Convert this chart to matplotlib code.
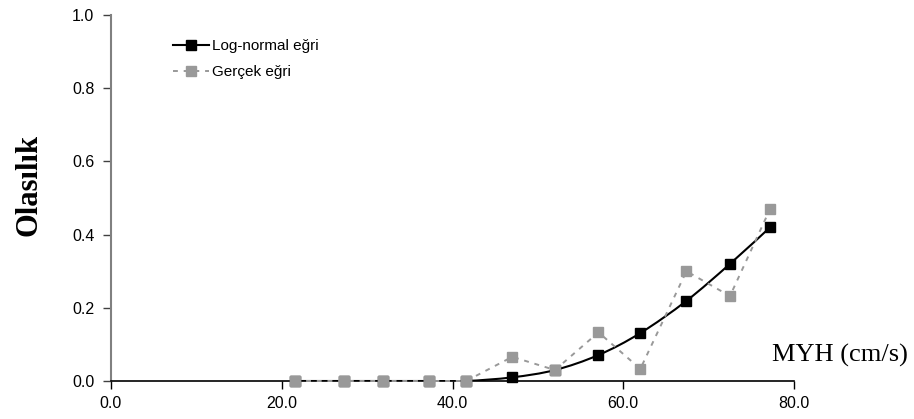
import numpy as np
import matplotlib
matplotlib.use("Agg")
import matplotlib.pyplot as plt
from matplotlib.path import Path
from matplotlib.patches import PathPatch

# Wind speed classes (cm/s) and exceedance probabilities
myh = [21.6, 27.3, 31.9, 37.3, 41.6, 47.0, 52.0, 57.1, 62.0, 67.4, 72.5, 77.2]
lognormal = [0.0, 0.0, 0.0, 0.0, 0.0, 0.01, 0.03, 0.071, 0.131, 0.219, 0.32, 0.42]
gercek = [0.0, 0.0, 0.0, 0.0, 0.0, 0.066, 0.03, 0.133, 0.033, 0.30, 0.232, 0.47]

x_ticks = [0, 20, 40, 60, 80]
y_ticks = [0.0, 0.2, 0.4, 0.6, 0.8, 1.0]


def smooth_path(xs, ys, tension=1 / 6):
    """Catmull-Rom style cubic Bezier path through the given points."""
    pts = np.column_stack([xs, ys]).astype(float)
    n = len(pts)
    verts = [pts[0]]
    codes = [Path.MOVETO]
    for i in range(n - 1):
        p0 = pts[i - 1] if i > 0 else pts[i]
        p1 = pts[i]
        p2 = pts[i + 1]
        p3 = pts[i + 2] if i + 2 < n else pts[i + 1]
        c1 = p1 + (p2 - p0) * tension
        c2 = p2 - (p3 - p1) * tension
        verts += [c1, c2, p2]
        codes += [Path.CURVE4] * 3
    return Path(verts, codes)


fig = plt.figure(figsize=(9.14, 4.19), dpi=100)
ax = fig.add_axes([111 / 914, 1 - 381 / 419, (794 - 111) / 914, (381 - 15) / 419])

ax.set_xlim(0, 80)
ax.set_ylim(0, 1.0)

# Observed curve: grey dotted with grey squares
ax.plot(myh, gercek, color="#999999", linestyle=(0, (2.5, 3)), linewidth=1.4,
        marker="s", markersize=7, markerfacecolor="#999999",
        markeredgecolor="#999999", zorder=3, clip_on=False)

# Log-normal curve: smoothed black line with black squares
ax.add_patch(PathPatch(smooth_path(myh, lognormal), facecolor="none",
                       edgecolor="black", linewidth=1.5, zorder=2))
ax.plot(myh, lognormal, linestyle="none", marker="s", markersize=7,
        color="black", zorder=2.5, clip_on=False)
ax.plot(myh[:5], gercek[:5], linestyle="none", marker="s", markersize=7,
        color="#999999", zorder=3, clip_on=False)

# Legend entries drawn as proxies
h1, = ax.plot([], [], color="black", linewidth=1.5, marker="s", markersize=7)
h2, = ax.plot([], [], color="#999999", linestyle=(0, (2.5, 3)), linewidth=1.4,
              marker="s", markersize=7)
leg = ax.legend([h1, h2], ["Log-normal eğri", "Gerçek eğri"],
                loc="upper left", bbox_to_anchor=(0.07, 0.972), frameon=False,
                prop={"family": "Liberation Sans", "size": 11},
                handlelength=2.4, handletextpad=0.2, labelspacing=0.8)

ax.set_xticks(x_ticks)
ax.set_xticklabels([f"{v:.1f}" for v in x_ticks])
ax.set_yticks(y_ticks)
ax.set_yticklabels([f"{v:.1f}" for v in y_ticks])
for lab in ax.get_xticklabels() + ax.get_yticklabels():
    lab.set_family("Liberation Sans")
    lab.set_fontsize(11.5)

ax.spines["top"].set_visible(False)
ax.spines["right"].set_visible(False)
ax.spines["left"].set_color("#808080")
ax.spines["left"].set_linewidth(1.5)
ax.spines["bottom"].set_color("black")
ax.spines["bottom"].set_linewidth(1.2)
ax.tick_params(axis="y", direction="out", length=6, width=1.0, colors="#404040",
               labelcolor="black", pad=6)
ax.tick_params(axis="x", direction="out", length=6, width=1.0, colors="black",
               pad=5)

fig.text(29 / 914, 1 - 185 / 419, "Olasılık", rotation=90, ha="center",
         va="center", family="Liberation Serif", fontweight="bold", fontsize=22)
fig.text(908 / 914, 1 - 355 / 419, "MYH (cm/s)", ha="right", va="center",
         family="Liberation Serif", fontsize=19)

fig.savefig("out.png", dpi=100)
